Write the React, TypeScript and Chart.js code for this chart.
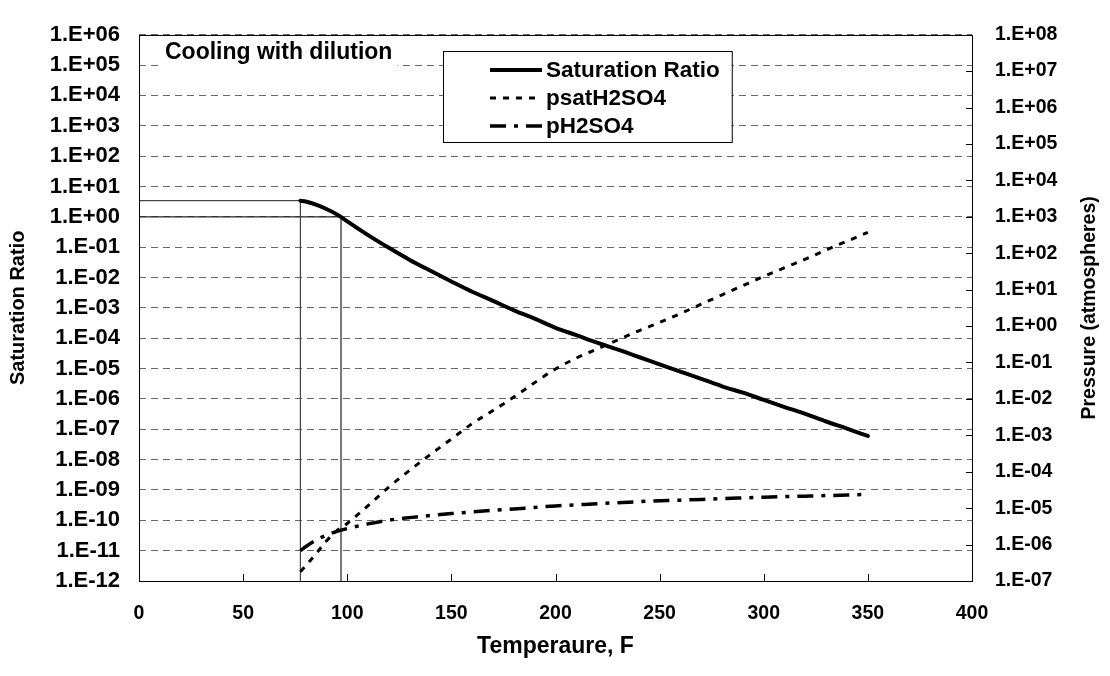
import React, { useEffect, useRef } from "react";
import { Chart, registerables } from "chart.js";

Chart.register(...registerables);

// Saturation ratio of H2SO4 vapour while the gas cools (left axis)
const satTemps = [77.5, 80, 85, 90, 95, 100, 110, 120, 130, 140, 150, 160, 170, 180, 190, 200, 210, 220, 230, 240, 250, 260, 270, 280, 290, 300, 310, 320, 330, 340, 350];
const satRatio = [3.4, 3.2, 2.5, 1.8, 1.2, 0.71, 0.25, 0.095, 0.038, 0.0166, 0.0074, 0.0034, 0.0017, 8.3e-4, 4.4e-4, 2.2e-4, 1.26e-4, 7.1e-5, 4.2e-5, 2.4e-5, 1.38e-5, 7.9e-6, 4.6e-6, 2.6e-6, 1.6e-6, 9.3e-7, 5.4e-7, 3.2e-7, 1.8e-7, 1.05e-7, 6.0e-8];

// Saturation vapour pressure of H2SO4 (right axis)
const psatTemps = [77.5, 80, 85, 90, 95, 100, 105, 110, 120, 130, 140, 150, 160, 170, 180, 190, 200, 210, 220, 230, 240, 250, 260, 270, 280, 290, 300, 310, 320, 330, 340, 350];
const psatH2SO4 = [1.8e-7, 2.6e-7, 5.6e-7, 1.26e-6, 2.4e-6, 3.8e-6, 6.6e-6, 1.17e-5, 3.8e-5, 1.1e-4, 3.0e-4, 7.9e-4, 2.1e-3, 4.8e-3, 0.0112, 0.028, 0.066, 0.132, 0.234, 0.42, 0.74, 1.26, 2.2, 4.0, 7.2, 12.9, 23, 40, 69, 123, 214, 372];

// Partial pressure of H2SO4 in the diluted gas (right axis)
const pTemps = [77.5, 80, 85, 90, 95, 100, 110, 120, 130, 140, 150, 160, 170, 180, 190, 200, 220, 240, 260, 280, 300, 320, 340, 350];
const pH2SO4 = [6.8e-7, 8.7e-7, 1.32e-6, 1.82e-6, 2.3e-6, 2.75e-6, 3.7e-6, 4.7e-6, 5.5e-6, 6.3e-6, 7.1e-6, 7.9e-6, 8.7e-6, 9.5e-6, 1.05e-5, 1.15e-5, 1.32e-5, 1.51e-5, 1.66e-5, 1.82e-5, 2.0e-5, 2.14e-5, 2.3e-5, 2.4e-5];

// Drop lines: onset of the curve and the point where the ratio reaches 1
const onsetTemp = 77.5;
const onsetRatio = 3.4;
const unityTemp = 97;
const unityRatio = 1;

// Axis ranges and tick decades
const xTicks = [0, 50, 100, 150, 200, 250, 300, 350, 400];
const leftExponents = [-12, -11, -10, -9, -8, -7, -6, -5, -4, -3, -2, -1, 0, 1, 2, 3, 4, 5, 6];
const rightExponents = [-7, -6, -5, -4, -3, -2, -1, 0, 1, 2, 3, 4, 5, 6, 7, 8];

const legendLabels = ["Saturation Ratio", "psatH2SO4", "pH2SO4"];
const noteText = "Cooling with dilution";
const xTitle = "Temperaure, F";
const leftTitle = "Saturation Ratio";
const rightTitle = "Pressure (atmospheres)";

const FONT = "'Liberation Sans', Arial, sans-serif";
const psatDash = [6, 7];
const pDash = [16, 8, 4, 8];

const fmtExp = (e: number) =>
  `1.E${e < 0 ? "-" : "+"}${String(Math.abs(e)).padStart(2, "0")}`;

const toPoints = (xs: number[], ys: number[]) => xs.map((x, i) => ({ x, y: ys[i] }));

const framePlugin = {
  id: "frameAndAnnotations",
  afterDraw(chart: any) {
    const { ctx, chartArea } = chart;
    const { left, right, top, bottom } = chartArea;
    const xs = chart.scales.x;
    const y2 = chart.scales.y2;
    ctx.save();

    // plot frame
    ctx.strokeStyle = "#000";
    ctx.lineWidth = 1;
    ctx.setLineDash([]);
    ctx.strokeRect(Math.round(left) + 0.5, Math.round(top) + 0.5, Math.round(right - left), Math.round(bottom - top));

    // inward tick marks on the x axis
    ctx.beginPath();
    xTicks.forEach((t) => {
      const px = Math.round(xs.getPixelForValue(t)) + 0.5;
      ctx.moveTo(px, bottom);
      ctx.lineTo(px, bottom - 7);
    });
    // inward tick marks on the right axis
    rightExponents.forEach((e) => {
      const py = Math.round(y2.getPixelForValue(Math.pow(10, e))) + 0.5;
      ctx.moveTo(right, py);
      ctx.lineTo(right - 6, py);
    });
    ctx.stroke();

    // right axis title, reading bottom to top
    ctx.font = `bold 19.5px ${FONT}`;
    ctx.fillStyle = "#000";
    ctx.textAlign = "center";
    ctx.textBaseline = "middle";
    ctx.save();
    ctx.translate(1090, (top + bottom) / 2);
    ctx.rotate(-Math.PI / 2);
    ctx.fillText(rightTitle, 0, 0);
    ctx.restore();

    // note in the upper left corner
    ctx.font = `bold 23px ${FONT}`;
    const nw = ctx.measureText(noteText).width;
    ctx.fillStyle = "#fff";
    ctx.fillRect(158, 38, nw + 12, 28);
    ctx.fillStyle = "#000";
    ctx.textAlign = "left";
    ctx.fillText(noteText, 165, 53);

    // legend
    ctx.font = `bold 22.5px ${FONT}`;
    const textX = 546;
    const maxW = Math.max(...legendLabels.map((l) => ctx.measureText(l).width));
    const lx = 443, ly = 51, lh = 91;
    const lw = textX + maxW + 12 - lx;
    ctx.fillStyle = "#fff";
    ctx.fillRect(lx, ly, lw, lh);
    ctx.strokeStyle = "#000";
    ctx.lineWidth = 1;
    ctx.strokeRect(lx + 0.5, ly + 0.5, lw, lh);
    const rows = [70, 98, 126];
    const styles = [
      { w: 4, dash: [] as number[] },
      { w: 3, dash: psatDash },
      { w: 3.5, dash: pDash },
    ];
    legendLabels.forEach((label, i) => {
      ctx.beginPath();
      ctx.lineWidth = styles[i].w;
      ctx.setLineDash(styles[i].dash);
      ctx.moveTo(490, rows[i]);
      ctx.lineTo(542, rows[i]);
      ctx.stroke();
      ctx.setLineDash([]);
      ctx.fillStyle = "#000";
      ctx.fillText(label, textX, rows[i] + 1);
    });

    ctx.restore();
  },
};

export default function App() {
  const canvasRef = useRef<HTMLCanvasElement | null>(null);

  useEffect(() => {
    document.body.style.margin = "0";
    const canvas = canvasRef.current;
    if (!canvas) return;

    const chart = new Chart(canvas, {
      type: "line",
      data: {
        datasets: [
          {
            label: legendLabels[0],
            data: toPoints(satTemps, satRatio),
            yAxisID: "y",
            borderColor: "#000",
            borderWidth: 4,
            pointRadius: 0,
            cubicInterpolationMode: "monotone",
            borderCapStyle: "round",
          },
          {
            label: legendLabels[1],
            data: toPoints(psatTemps, psatH2SO4),
            yAxisID: "y2",
            borderColor: "#000",
            borderWidth: 3,
            borderDash: psatDash,
            pointRadius: 0,
            cubicInterpolationMode: "monotone",
          },
          {
            label: legendLabels[2],
            data: toPoints(pTemps, pH2SO4),
            yAxisID: "y2",
            borderColor: "#000",
            borderWidth: 3.5,
            borderDash: pDash,
            pointRadius: 0,
            cubicInterpolationMode: "monotone",
          },
          {
            label: "onset",
            data: [
              { x: 0, y: onsetRatio },
              { x: onsetTemp, y: onsetRatio },
              { x: onsetTemp, y: 1e-12 },
            ],
            yAxisID: "y",
            borderColor: "#444",
            borderWidth: 1.2,
            pointRadius: 0,
            tension: 0,
          },
          {
            label: "unity",
            data: [
              { x: 0, y: unityRatio },
              { x: unityTemp, y: unityRatio },
              { x: unityTemp, y: 1e-12 },
            ],
            yAxisID: "y",
            borderColor: "#222",
            borderWidth: 1.2,
            pointRadius: 0,
            tension: 0,
          },
        ],
      },
      options: {
        animation: false,
        responsive: false,
        devicePixelRatio: 1,
        layout: { padding: { top: 18, left: 0, right: 0, bottom: 0 } },
        plugins: { legend: { display: false }, tooltip: { enabled: false } },
        scales: {
          x: {
            type: "linear",
            min: 0,
            max: 400,
            afterBuildTicks: (s: any) => {
              s.ticks = xTicks.map((v) => ({ value: v }));
            },
            afterFit: (s: any) => {
              s.height = 95;
            },
            grid: { display: false, drawTicks: false },
            border: { display: false },
            ticks: {
              padding: 21,
              color: "#000",
              autoSkip: false,
              maxRotation: 0,
              font: { family: FONT, size: 19.5, weight: "bold" },
            },
            title: {
              display: true,
              text: xTitle,
              color: "#000",
              padding: { top: 0, bottom: 16 },
              font: { family: FONT, size: 23, weight: "bold" },
            },
          },
          y: {
            type: "logarithmic",
            position: "left",
            min: 1e-12,
            max: 1e6,
            afterBuildTicks: (s: any) => {
              s.ticks = leftExponents.map((e) => ({ value: Math.pow(10, e) }));
            },
            afterFit: (s: any) => {
              s.width = 139;
            },
            grid: { color: "#666", lineWidth: 1, drawTicks: false },
            border: { display: false, dash: [7, 5] },
            ticks: {
              padding: 19,
              color: "#000",
              autoSkip: false,
              font: { family: FONT, size: 22, weight: "bold" },
              callback: (v: any) => fmtExp(Math.round(Math.log10(Number(v)))),
            },
            title: {
              display: true,
              text: leftTitle,
              color: "#000",
              padding: { top: 6, bottom: 0 },
              font: { family: FONT, size: 20, weight: "bold" },
            },
          },
          y2: {
            type: "logarithmic",
            position: "right",
            min: 1e-7,
            max: 1e8,
            afterBuildTicks: (s: any) => {
              s.ticks = rightExponents.map((e) => ({ value: Math.pow(10, e) }));
            },
            afterFit: (s: any) => {
              s.width = 138;
            },
            grid: { display: false, drawTicks: false },
            border: { display: false },
            ticks: {
              padding: 23,
              color: "#000",
              autoSkip: false,
              font: { family: FONT, size: 19.5, weight: "bold" },
              callback: (v: any) => fmtExp(Math.round(Math.log10(Number(v)))),
            },
          },
        },
      },
      plugins: [framePlugin],
    } as any);

    return () => {
      chart.destroy();
    };
  }, []);

  return (
    <div style={{ width: 1110, height: 676, background: "#fff" }}>
      <canvas ref={canvasRef} width={1110} height={676} />
    </div>
  );
}
